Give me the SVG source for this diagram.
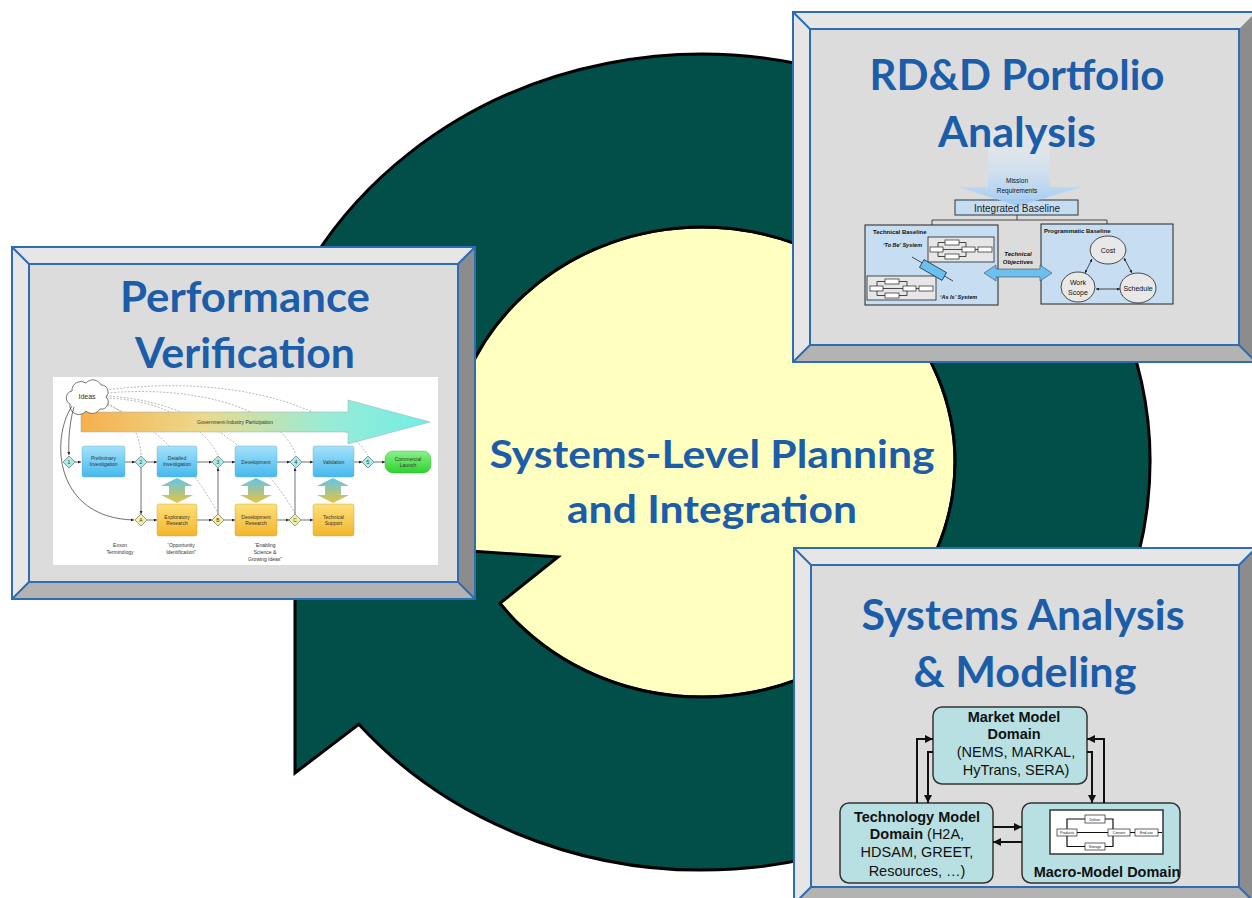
<svg xmlns="http://www.w3.org/2000/svg" width="1252" height="898" viewBox="0 0 1252 898">
<defs>
<style>
.title{font-family:Lato,"Open Sans","Liberation Sans",sans-serif;font-weight:bold;font-size:42px;fill:#1B5DA9;text-anchor:middle}
.center{font-family:Lato,"Open Sans","Liberation Sans",sans-serif;font-weight:bold;font-size:39px;fill:#1B5DA9;text-anchor:middle}
.bl{fill:#E6E6E6}
.br{fill:#8C8C8C}
.bb{fill:#B3B3B3}
.face{fill:#DCDCDC}
.bline{fill:none;stroke:#2E6CB4;stroke-width:2}
.tiny{font-family:"Liberation Sans",Arial,sans-serif;font-size:5px;fill:#333;text-anchor:middle}
.fc{stroke:#333;stroke-width:0.7;fill:none}
.dash{stroke:#8a8a8a;stroke-width:0.6;fill:none;stroke-dasharray:2 1.5}
.sm{font-family:"Liberation Sans",Arial,sans-serif;fill:#111;text-anchor:middle}
.sys{font-family:"Liberation Sans",Arial,sans-serif;font-size:14.5px;fill:#111;text-anchor:middle}
.sysb{font-weight:bold}
.conn{stroke:#111;stroke-width:2;fill:none}
.dmb{fill:#A8ECEC;stroke:#555;stroke-width:0.6}
.dmy{fill:#F6F1A6;stroke:#555;stroke-width:0.6}
.thin{stroke:#222;stroke-width:0.8;fill:none}
.mini{fill:#fff;stroke:#222;stroke-width:0.7}
</style>
<linearGradient id="gip" x1="0" y1="0" x2="1" y2="0">
<stop offset="0" stop-color="#F6B04C"/><stop offset="0.35" stop-color="#EBD98C"/><stop offset="0.7" stop-color="#9AEBD5"/><stop offset="1" stop-color="#72EEE6"/>
</linearGradient>
<linearGradient id="gb" x1="0" y1="0" x2="0" y2="1"><stop offset="0" stop-color="#A6E2FA"/><stop offset="1" stop-color="#45B8EE"/></linearGradient>
<linearGradient id="gy" x1="0" y1="0" x2="0" y2="1"><stop offset="0" stop-color="#FDE07A"/><stop offset="1" stop-color="#F3B52C"/></linearGradient>
<linearGradient id="gg" x1="0" y1="0" x2="0" y2="1"><stop offset="0" stop-color="#8AF28A"/><stop offset="1" stop-color="#2DD22D"/></linearGradient>
<linearGradient id="gd" x1="0" y1="0" x2="0" y2="1"><stop offset="0" stop-color="#5EC6EA"/><stop offset="1" stop-color="#E6C440"/></linearGradient>
<linearGradient id="gm" x1="0" y1="0" x2="0" y2="1"><stop offset="0" stop-color="#FFFFFF" stop-opacity="0.2"/><stop offset="1" stop-color="#9DC9F2"/></linearGradient>
<marker id="ah" viewBox="0 0 10 10" refX="10" refY="5" markerWidth="8" markerHeight="8" markerUnits="userSpaceOnUse" orient="auto"><path d="M0,0 L10,5 L0,10 z" fill="#111"/></marker>
<marker id="as" viewBox="0 0 10 10" refX="10" refY="5" markerWidth="3" markerHeight="3" markerUnits="userSpaceOnUse" orient="auto"><path d="M0,0 L10,5 L0,10 z" fill="#222"/></marker>
<marker id="ast" viewBox="0 0 10 10" refX="0" refY="5" markerWidth="3" markerHeight="3" markerUnits="userSpaceOnUse" orient="auto"><path d="M10,0 L0,5 L10,10 z" fill="#222"/></marker>
</defs>

<rect x="0" y="0" width="1252" height="898" fill="#FFFFFF"/>

<g id="cycle">
<ellipse cx="702" cy="462" rx="253" ry="235" fill="#FFFFBF" stroke="#000" stroke-width="3"/>
<path d="M295,539 L295,773 L358.8,724.3 A448,408 0 1 0 255.7,497.6 L449.96,482.48 A253,235 0 1 1 499.9,603.4 L558,557 L470,551 Z" fill="#024E48" stroke="#000" stroke-width="3" stroke-linejoin="miter"/>
<text class="center" x="712" y="468" textLength="445" lengthAdjust="spacingAndGlyphs">Systems-Level Planning</text>
<text class="center" x="712" y="523" textLength="290" lengthAdjust="spacingAndGlyphs">and Integration</text>
</g>

<g id="panel-performance">
<polygon class="bl" points="12,247 475,247 458,264 29,264"/>
<polygon class="bl" points="12,247 29,264 29,582 12,599"/>
<polygon class="br" points="475,247 475,599 458,582 458,264"/>
<polygon class="bb" points="12,599 475,599 458,582 29,582"/>
<rect class="face" x="29" y="264" width="429" height="318"/>
<rect class="bline" x="12" y="247" width="463" height="352"/>
<rect class="bline" x="29" y="264" width="429" height="318"/>
<path class="bline" d="M12,247 L29,264 M475,247 L458,264 M12,599 L29,582 M475,599 L458,582"/>
<text class="title" x="245" y="312" textLength="250" lengthAdjust="spacingAndGlyphs">Performance</text>
<text class="title" x="245" y="368" textLength="220" lengthAdjust="spacingAndGlyphs">Verification</text>
<rect x="53" y="377" width="385" height="188" fill="#FFFFFF"/>
<g id="pv-dashed">
<path class="dash" d="M104,402 C125,410 140,430 141,455"/>
<path class="dash" d="M106,398 C170,400 205,430 218,455"/>
<path class="dash" d="M104,404 C150,420 185,455 218,513"/>
<path class="dash" d="M107,393 C200,385 280,410 296,455"/>
<path class="dash" d="M106,396 C190,400 255,445 295,513"/>
<path class="dash" d="M106,390 C220,375 330,400 368,455"/>
</g>
<polygon points="81,412 348,412 348,400 430,422 348,444 348,432 81,432" fill="url(#gip)" stroke="#9ab" stroke-width="0.5"/>
<text class="tiny" x="235" y="424">Government-Industry Participation</text>
<path d="M70,404 a7,7 0 0 1 2,-13 a9,9 0 0 1 14,-8 a9,9 0 0 1 15,2 a7,7 0 0 1 5,12 a7,7 0 0 1 -6,12 a9,9 0 0 1 -14,2 a9,9 0 0 1 -16,-7 z" fill="#FFFFFF" stroke="#555" stroke-width="0.8"/>
<text class="tiny" x="87" y="399" style="font-size:7px">Ideas</text>
<g id="pv-connectors">
<path class="fc" d="M74,407 C70,420 68,440 69,455" marker-end="url(#as)"/>
<path class="fc" d="M72,406 C50,440 55,518 134,520" marker-end="url(#as)"/>
<path class="fc" d="M75,462 H81" marker-end="url(#as)"/>
<path class="fc" d="M125,462 H135" marker-end="url(#as)"/>
<path class="fc" d="M147,462 H157" marker-end="url(#as)"/>
<path class="fc" d="M197,462 H212" marker-end="url(#as)"/>
<path class="fc" d="M224,462 H235" marker-end="url(#as)"/>
<path class="fc" d="M277,462 H290" marker-end="url(#as)"/>
<path class="fc" d="M302,462 H313" marker-end="url(#as)"/>
<path class="fc" d="M354,462 H362" marker-end="url(#as)"/>
<path class="fc" d="M374,462 H385" marker-end="url(#as)"/>
<path class="fc" d="M147,520 H157" marker-end="url(#as)"/>
<path class="fc" d="M197,520 H212" marker-end="url(#as)"/>
<path class="fc" d="M224,520 H235" marker-end="url(#as)"/>
<path class="fc" d="M277,520 H289" marker-end="url(#as)"/>
<path class="fc" d="M301,520 H313" marker-end="url(#as)"/>
<path class="fc" d="M141,468 V514" marker-end="url(#as)"/>
<path class="fc" d="M218,514 V468" marker-end="url(#as)"/>
<path class="fc" d="M295,514 V468" marker-end="url(#as)"/>
</g>
<g id="pv-nodes">
<polygon class="dmb" points="69,456 75,462 69,468 63,462"/><text class="tiny" x="69" y="464">1</text>
<polygon class="dmb" points="141,456 147,462 141,468 135,462"/><text class="tiny" x="141" y="464">2</text>
<polygon class="dmb" points="218,456 224,462 218,468 212,462"/><text class="tiny" x="218" y="464">3</text>
<polygon class="dmb" points="296,456 302,462 296,468 290,462"/><text class="tiny" x="296" y="464">4</text>
<polygon class="dmb" points="368,456 374,462 368,468 362,462"/><text class="tiny" x="368" y="464">5</text>
<polygon class="dmy" points="141,514 147,520 141,526 135,520"/><text class="tiny" x="141" y="522">A</text>
<polygon class="dmy" points="218,514 224,520 218,526 212,520"/><text class="tiny" x="218" y="522">B</text>
<polygon class="dmy" points="295,514 301,520 295,526 289,520"/><text class="tiny" x="295" y="522">C</text>
<rect x="82" y="446" width="43" height="31" rx="2" fill="url(#gb)" stroke="#6ab" stroke-width="0.4"/>
<text class="tiny" x="103.5" y="460">Preliminary</text><text class="tiny" x="103.5" y="466">Investigation</text>
<rect x="157" y="446" width="40" height="31" rx="2" fill="url(#gb)" stroke="#6ab" stroke-width="0.4"/>
<text class="tiny" x="177" y="460">Detailed</text><text class="tiny" x="177" y="466">Investigation</text>
<rect x="235" y="446" width="42" height="31" rx="2" fill="url(#gb)" stroke="#6ab" stroke-width="0.4"/>
<text class="tiny" x="256" y="464">Development</text>
<rect x="313" y="446" width="41" height="31" rx="2" fill="url(#gb)" stroke="#6ab" stroke-width="0.4"/>
<text class="tiny" x="333.5" y="464">Validation</text>
<rect x="385" y="451" width="46" height="22" rx="8" fill="url(#gg)" stroke="#3a3" stroke-width="0.4"/>
<text class="tiny" x="408" y="461">Commercial</text><text class="tiny" x="408" y="467">Launch</text>
<rect x="157" y="504" width="40" height="32" rx="2" fill="url(#gy)" stroke="#c93" stroke-width="0.4"/>
<text class="tiny" x="177" y="519">Exploratory</text><text class="tiny" x="177" y="525">Research</text>
<rect x="235" y="504" width="42" height="32" rx="2" fill="url(#gy)" stroke="#c93" stroke-width="0.4"/>
<text class="tiny" x="256" y="519">Development</text><text class="tiny" x="256" y="525">Research</text>
<rect x="313" y="504" width="41" height="32" rx="2" fill="url(#gy)" stroke="#c93" stroke-width="0.4"/>
<text class="tiny" x="333.5" y="519">Technical</text><text class="tiny" x="333.5" y="525">Support</text>
<polygon points="177,478 193,486 185,486 185,495 193,495 177,503 161,495 169,495 169,486 161,486" fill="url(#gd)"/>
<polygon points="256,478 272,486 264,486 264,495 272,495 256,503 240,495 248,495 248,486 240,486" fill="url(#gd)"/>
<polygon points="333,478 349,486 341,486 341,495 349,495 333,503 317,495 325,495 325,486 317,486" fill="url(#gd)"/>
<text class="tiny" x="120" y="547">Exxon</text><text class="tiny" x="120" y="554">Terminology</text>
<text class="tiny" x="181" y="547">“Opportunity</text><text class="tiny" x="181" y="554">Identification”</text>
<text class="tiny" x="265" y="547">“Enabling</text><text class="tiny" x="265" y="554">Science &amp;</text><text class="tiny" x="265" y="561">Growing Ideas”</text>
</g>
</g>

<g id="panel-rdd">
<polygon class="bl" points="793,12 1256,12 1239,29 810,29"/>
<polygon class="bl" points="793,12 810,29 810,345 793,362"/>
<polygon class="br" points="1256,12 1256,362 1239,345 1239,29"/>
<polygon class="bb" points="793,362 1256,362 1239,345 810,345"/>
<rect class="face" x="810" y="29" width="429" height="316"/>
<rect class="bline" x="793" y="12" width="463" height="350"/>
<rect class="bline" x="810" y="29" width="429" height="316"/>
<path class="bline" d="M793,12 L810,29 M793,362 L810,345 M1256,362 L1239,345"/>
<rect x="955" y="200" width="123" height="15" fill="#C5DDF2" stroke="#333" stroke-width="1"/>
<polygon points="988,128 1050,128 1050,187 1082,187 1018,206 958,187 988,187" fill="url(#gm)"/>
<text class="title" x="1017" y="90" textLength="295" lengthAdjust="spacingAndGlyphs">RD&amp;D Portfolio</text>
<text class="title" x="1017" y="147" textLength="158" lengthAdjust="spacingAndGlyphs">Analysis</text>
<text class="sm" x="1017" y="183" style="font-size:6.5px">Mission</text>
<text class="sm" x="1017" y="193" style="font-size:6.5px">Requirements</text>
<text class="sm" x="1017" y="212" style="font-size:10px;fill:#222">Integrated Baseline</text>
<path class="thin" d="M1017,215 V220 M932,220 H1107 M932,220 V225 M1107,220 V224"/>
<rect x="865" y="225" width="133" height="80" fill="#C6DDF2" stroke="#222" stroke-width="1"/>
<text class="sm" x="873" y="234" style="font-size:6px;font-weight:bold;text-anchor:start">Technical Baseline</text>
<text class="sm" x="883" y="247" style="font-size:5.5px;font-weight:bold;font-style:italic;text-anchor:start">‘To Be’ System</text>
<rect x="928" y="237" width="66" height="25" fill="#E6E6E6" stroke="#222" stroke-width="0.8"/>
<rect class="mini" x="945" y="240" width="14" height="5"/><rect class="mini" x="930" y="247" width="13" height="5"/><rect class="mini" x="962" y="247" width="13" height="5"/><rect class="mini" x="978" y="247" width="14" height="5"/><rect class="mini" x="945" y="254" width="14" height="5"/>
<path class="thin" d="M943,249.5 H962 M975,249.5 H978 M938,247 V242.5 H945 M959,242.5 H966 V247 M938,252 V256.5 H945 M959,256.5 H966 V252"/>
<rect x="867" y="276" width="69" height="24" fill="#E6E6E6" stroke="#222" stroke-width="0.8"/>
<rect class="mini" x="885" y="279" width="14" height="5"/><rect class="mini" x="870" y="286" width="13" height="5"/><rect class="mini" x="903" y="286" width="13" height="5"/><rect class="mini" x="919" y="286" width="14" height="5"/><rect class="mini" x="885" y="293" width="14" height="5"/>
<path class="thin" d="M883,288.5 H903 M916,288.5 H919 M877,286 V281.5 H885 M899,281.5 H907 V286 M877,291 V295.5 H885 M899,295.5 H907 V291"/>
<text class="sm" x="940" y="299" style="font-size:5.5px;font-weight:bold;font-style:italic;text-anchor:start">‘As Is’ System</text>
<line x1="912" y1="257" x2="953" y2="281" stroke="#222" stroke-width="0.8"/>
<rect x="920" y="265.5" width="26" height="9" fill="#6CC0F0" stroke="#222" stroke-width="0.7" transform="rotate(30 933 270)"/>
<rect x="1041" y="224" width="132" height="80" fill="#C6DDF2" stroke="#222" stroke-width="1"/>
<text class="sm" x="1044" y="233" style="font-size:6px;font-weight:bold;text-anchor:start">Programmatic Baseline</text>
<polygon points="984,273 996,265 996,269 1040,269 1040,265 1052,273 1040,281 1040,277 996,277 996,281" fill="#6CC0F0" stroke="#333" stroke-width="0.5"/>
<text class="sm" x="1018" y="256" style="font-size:6px;font-weight:bold;font-style:italic">Technical</text>
<text class="sm" x="1018" y="264" style="font-size:6px;font-weight:bold;font-style:italic">Objectives</text>
<ellipse cx="1108" cy="250" rx="18" ry="14" fill="#E8E8E8" stroke="#222" stroke-width="0.8"/>
<ellipse cx="1078" cy="287" rx="17" ry="15" fill="#E8E8E8" stroke="#222" stroke-width="0.8"/>
<ellipse cx="1138" cy="288" rx="18" ry="15" fill="#E8E8E8" stroke="#222" stroke-width="0.8"/>
<text class="sm" x="1108" y="253" style="font-size:7px">Cost</text>
<text class="sm" x="1078" y="285" style="font-size:7px">Work</text>
<text class="sm" x="1078" y="295" style="font-size:7px">Scope</text>
<text class="sm" x="1138" y="291" style="font-size:7px">Schedule</text>
<path class="thin" d="M1092,259 L1085,273" marker-start="url(#ast)" marker-end="url(#as)"/>
<path class="thin" d="M1124,258 L1132,273" marker-start="url(#ast)" marker-end="url(#as)"/>
<path class="thin" d="M1096,289 L1120,289" marker-start="url(#ast)" marker-end="url(#as)"/>
</g>

<g id="panel-systems">
<polygon class="bl" points="794,548 1256,548 1239,565 811,565"/>
<polygon class="bl" points="794,548 811,565 811,887 794,904"/>
<polygon class="br" points="1256,548 1256,904 1239,887 1239,565"/>
<polygon class="bb" points="794,904 1256,904 1239,887 811,887"/>
<rect class="face" x="811" y="565" width="428" height="322"/>
<rect class="bline" x="794" y="548" width="462" height="356"/>
<rect class="bline" x="811" y="565" width="428" height="322"/>
<path class="bline" d="M794,548 L811,565 M1256,548 L1239,565 M794,904 L811,887 M1256,904 L1239,887"/>
<text class="title" x="1023" y="630" textLength="323" lengthAdjust="spacingAndGlyphs">Systems Analysis</text>
<text class="title" x="1025" y="687" textLength="223" lengthAdjust="spacingAndGlyphs">&amp; Modeling</text>
<g id="sys-market">
<rect x="933" y="707" width="154" height="77" rx="9" fill="#B8E0E2" stroke="#333" stroke-width="1.5"/>
<text class="sys sysb" x="1014" y="722">Market Model</text>
<text class="sys sysb" x="1014" y="739">Domain</text>
<text class="sys" x="1016" y="757">(NEMS, MARKAL,</text>
<text class="sys" x="1016" y="775">HyTrans, SERA)</text>
</g>
<g id="sys-tech">
<rect x="840" y="803" width="153" height="80" rx="9" fill="#B8E0E2" stroke="#333" stroke-width="1.5"/>
<text class="sys sysb" x="917" y="822">Technology Model</text>
<text class="sys" x="917" y="839"><tspan class="sysb">Domain</tspan> (H2A,</text>
<text class="sys" x="917" y="857">HDSAM, GREET,</text>
<text class="sys" x="917" y="876">Resources, …)</text>
</g>
<g id="sys-macro">
<rect x="1022" y="803" width="158" height="80" rx="9" fill="#B8E0E2" stroke="#333" stroke-width="1.5"/>
<rect x="1050" y="810" width="113" height="44" fill="#FFFFFF" stroke="#333" stroke-width="1.5"/>
<path d="M1077,832.5 H1108 M1130,832.5 H1135 M1158,832.5 H1162 M1067,829 V819 H1085 M1105,819 H1113 V829 M1067,836 V846.5 H1085 M1105,846.5 H1113 V836" stroke="#111" stroke-width="1.2" fill="none"/>
<rect class="mini" x="1057" y="829" width="20" height="7"/><rect class="mini" x="1085" y="815" width="20" height="8"/><rect class="mini" x="1085" y="843" width="20" height="7"/><rect class="mini" x="1108" y="829" width="22" height="7"/><rect class="mini" x="1135" y="829" width="23" height="7"/>
<text class="sm" x="1067" y="834" style="font-size:3.5px">Products</text>
<text class="sm" x="1095" y="821" style="font-size:3.5px">Deliver</text>
<text class="sm" x="1095" y="848" style="font-size:3.5px">Storage</text>
<text class="sm" x="1119" y="834" style="font-size:3.5px">Convert</text>
<text class="sm" x="1146.5" y="834" style="font-size:3.5px">End use</text>
<text class="sys sysb" x="1107" y="877">Macro-Model Domain</text>
</g>
<g id="sys-connectors">
<path class="conn" d="M917,803 V739 H933" marker-end="url(#ah)"/>
<path class="conn" d="M933,752 H928 V803" marker-end="url(#ah)"/>
<path class="conn" d="M1104,803 V739 H1087" marker-end="url(#ah)"/>
<path class="conn" d="M1087,752 H1092 V803" marker-end="url(#ah)"/>
<path class="conn" d="M993,827 H1022" marker-end="url(#ah)"/>
<path class="conn" d="M1022,842 H993" marker-end="url(#ah)"/>
</g>
</g>
</svg>
